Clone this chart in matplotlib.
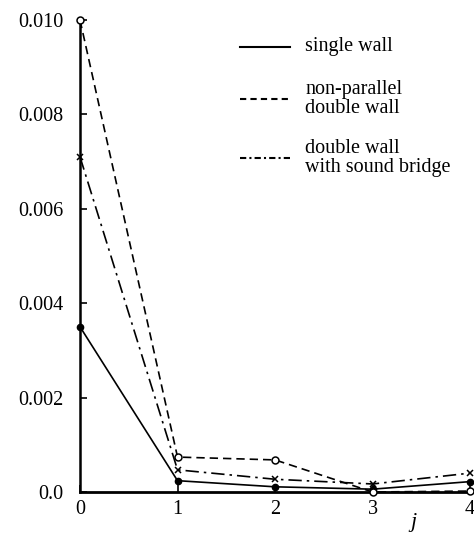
import matplotlib
matplotlib.use("Agg")
import matplotlib.pyplot as plt
from matplotlib.lines import Line2D

j = [0, 1, 2, 3, 4]
single_wall = [0.0035, 0.00024, 0.00011, 0.00006, 0.00022]
nonparallel_double = [0.0100, 0.00074, 0.00068, 0.0, 0.00002]
sound_bridge = [0.0071, 0.00047, 0.00027, 0.00017, 0.00040]
labels = ["single wall", "non-parallel\ndouble wall", "double wall\nwith sound bridge"]
yticks = [0.0, 0.002, 0.004, 0.006, 0.008, 0.010]
yticklabels = ["0.0", "0.002", "0.004", "0.006", "0.008", "0.010"]

plt.rcParams['font.family'] = ['Liberation Serif', 'DejaVu Serif']
W, H = 474, 534
fig = plt.figure(figsize=(W/100, H/100), dpi=100)
ax = fig.add_axes([80/W, 42/H, (W-80)/W, (492-20)/H])

ls_solid = '-'
ls_dash = (0, (5, 3))
ls_dashdot = (0, (8, 3, 1.5, 3))
styles = [ls_solid, ls_dash, ls_dashdot]

ax.plot(j, single_wall, color='black', lw=1.2, ls=ls_solid, marker='o', ms=4.5,
        mfc='black', mec='black', clip_on=False, zorder=3)
ax.plot(j, nonparallel_double, color='black', lw=1.2, ls=ls_dash, marker='o', ms=5,
        mfc='white', mec='black', mew=1.1, clip_on=False, zorder=3)
ax.plot(j, sound_bridge, color='black', lw=1.2, ls=ls_dashdot, marker='x', ms=5,
        mec='black', mew=1.1, clip_on=False, zorder=3)

ax.set_xlim(0, 4.04)
ax.set_ylim(0, 0.010)
ax.set_xticks(j)
ax.set_xticklabels([str(v) for v in j])
ax.set_yticks(yticks)
ax.set_yticklabels(yticklabels)
ax.tick_params(direction='in', length=5, width=1.2, labelsize=14.5)
ax.tick_params(axis='y', pad=12)
ax.tick_params(axis='x', pad=6)
for s in ['top', 'right']:
    ax.spines[s].set_visible(False)
ax.spines['left'].set_linewidth(1.8)
ax.spines['bottom'].set_linewidth(2.0)

ax.text(3.42, -0.00044, 'j', style='italic', fontsize=16, ha='center', va='top',
        transform=ax.transData)

# legend (drawn manually to match the reference's spacing)
leg_styles = ['-', (0, (3, 2)), (0, (3, 1.5, 1, 1.5))]
leg_y = [47, 99, 158]
for lab, st, yy in zip(labels, leg_styles, leg_y):
    fig.add_artist(Line2D([240/W, 290/W], [1 - yy/H, 1 - yy/H], color='black', lw=1.5,
                          ls=st, transform=fig.transFigure))
    fig.text(305/W, 1 - yy/H, lab, fontsize=14.5, ha='left', va='center',
             linespacing=1.05)

fig.savefig('out.png', dpi=100)
